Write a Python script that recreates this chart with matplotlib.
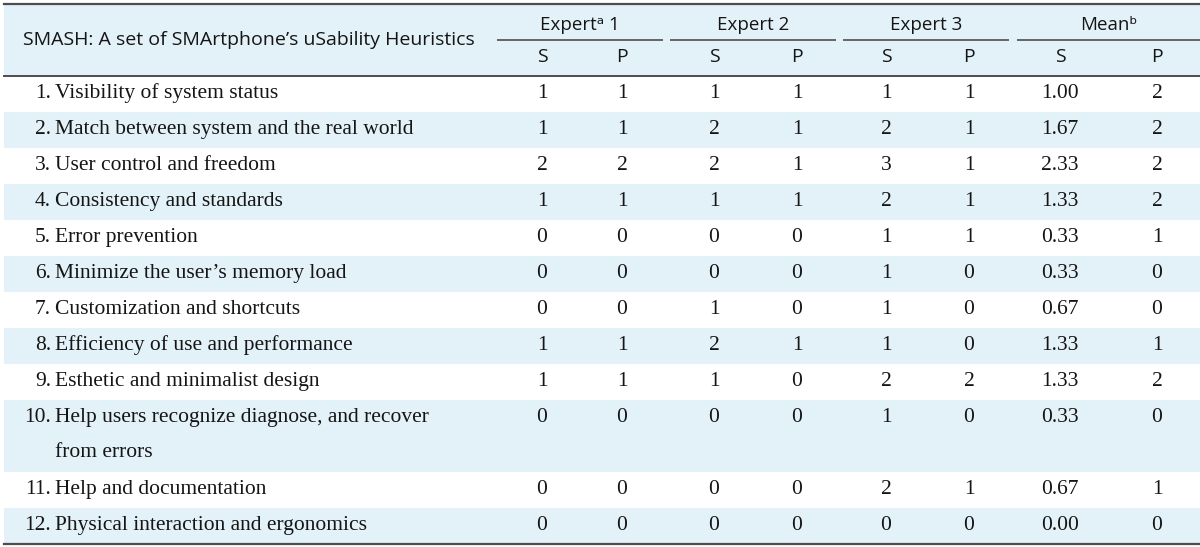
import matplotlib
matplotlib.use('Agg')
import matplotlib.pyplot as plt
from matplotlib.patches import Rectangle

# table data
heuristics = [
    'Visibility of system status',
    'Match between system and the real world',
    'User control and freedom',
    'Consistency and standards',
    'Error prevention',
    'Minimize the user\u2019s memory load',
    'Customization and shortcuts',
    'Efficiency of use and performance',
    'Esthetic and minimalist design',
    'Help users recognize diagnose, and recover\nfrom errors',
    'Help and documentation',
    'Physical interaction and ergonomics',
]
expert1_s = [1, 1, 2, 1, 0, 0, 0, 1, 1, 0, 0, 0]
expert1_p = [1, 1, 2, 1, 0, 0, 0, 1, 1, 0, 0, 0]
expert2_s = [1, 2, 2, 1, 0, 0, 1, 2, 1, 0, 0, 0]
expert2_p = [1, 1, 1, 1, 0, 0, 0, 1, 0, 0, 0, 0]
expert3_s = [1, 2, 3, 2, 1, 1, 1, 1, 2, 1, 2, 0]
expert3_p = [1, 1, 1, 1, 1, 0, 0, 0, 2, 0, 1, 0]
mean_s = [1.00, 1.67, 2.33, 1.33, 0.33, 0.33, 0.67, 1.33, 1.33, 0.33, 0.67, 0.00]
mean_p = [2, 2, 2, 2, 1, 0, 0, 1, 2, 0, 1, 0]

group_labels = ['Expert\u1d43 1', 'Expert 2', 'Expert 3', 'Mean\u1d47']
sub_labels = ['S', 'P']
title_text = 'SMASH: A set of SMArtphone\u2019s uSability Heuristics'

SANS = ['Open Sans', 'DejaVu Sans']
SERIF = 'Liberation Serif'

BLUE = '#e3f1f8'
LINE = '#4d4d4d'
INK = '#151515'

W, H = 1200, 547
fig = plt.figure(figsize=(12, 5.47), dpi=100)
ax = fig.add_axes([0, 0, 1, 1])
ax.set_xlim(0, W)
ax.set_ylim(H, 0)
ax.axis('off')

left = 4
head_top, head_bot = 4, 75.5
row_h = 36.0
group_x0 = [497, 670, 843, 1017]
group_x1 = [663, 836, 1009, 1200]
col_x = [542, 622, 714, 797, 886, 969, 1060, 1157]

# header
ax.add_patch(Rectangle((left, head_top), W - left, head_bot - head_top, color=BLUE, lw=0))
ax.text(23, 40, title_text, family=SANS, fontsize=14, va='center', ha='left', color=INK)
for i, lab in enumerate(group_labels):
    cx = (group_x0[i] + group_x1[i]) / 2
    ax.text(cx, 30, lab, family=SANS, fontsize=13.5, va='baseline', ha='center', color=INK)
    ax.plot([group_x0[i], group_x1[i]], [40, 40], color=LINE, lw=1.2, solid_capstyle='butt')
for j, x in enumerate(col_x):
    ax.text(x, 57, sub_labels[j % 2], family=SANS, fontsize=14, va='center', ha='center',
            color=INK)

# body rows
columns = [expert1_s, expert1_p, expert2_s, expert2_p, expert3_s, expert3_p, mean_s, mean_p]
y = head_bot
for i, name in enumerate(heuristics):
    n_lines = name.count('\n') + 1
    h = row_h * n_lines
    if i % 2 == 1:
        ax.add_patch(Rectangle((left, y), W - left, h, color=BLUE, lw=0))
    yc = y + row_h / 2
    ax.text(51, yc, f'{i + 1}.', family=SERIF, fontsize=15.5, va='center', ha='right', color=INK)
    for k, line in enumerate(name.split('\n')):
        ax.text(55, yc + k * 35, line, family=SERIF, fontsize=15.5, va='center', ha='left',
                color=INK)
    for j, col in enumerate(columns):
        val = col[i]
        txt = f'{val:.2f}' if j == 6 else f'{val}'
        ax.text(col_x[j], yc, txt, family=SERIF, fontsize=15.5, va='center', ha='center',
                color=INK)
    y += h

# rules
ax.plot([left, W], [head_top, head_top], color=LINE, lw=1.6)
ax.plot([left, W], [head_bot, head_bot], color=LINE, lw=1.4)
ax.plot([left, W], [y, y], color=LINE, lw=1.6)

fig.savefig('out.png', dpi=100)
